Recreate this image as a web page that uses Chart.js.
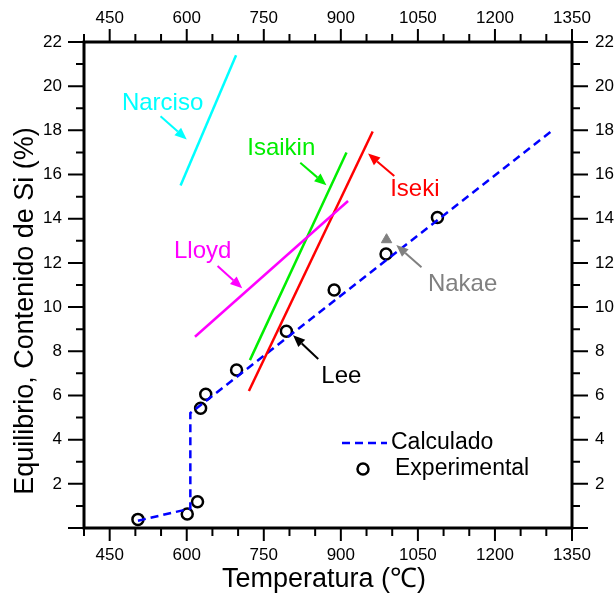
<!DOCTYPE html>
<html><head><meta charset="utf-8">
<script src="https://cdn.jsdelivr.net/npm/chart.js@4/dist/chart.umd.min.js"></script>
<style>html,body{margin:0;padding:0;background:#fff}</style>
</head><body>
<canvas id="c" width="616" height="598"></canvas>
<script>
// ---- data ----
const xTickLabels = [450, 600, 750, 900, 1050, 1200, 1350];
const yTickLabels = [2, 4, 6, 8, 10, 12, 14, 16, 18, 20, 22];
const calcT  = [505, 607, 607, 1312];
const calcSi = [0.33, 0.88, 5.2, 18.0];
const expT  = [505, 601, 621, 627, 637, 697, 794, 887, 988, 1088];
const expSi = [0.39, 0.63, 1.19, 5.42, 6.05, 7.15, 8.91, 10.77, 12.4, 14.06];
const narcisoT = [588, 696],  narcisoSi = [15.5, 21.4];
const isaikinT = [723, 911],  isaikinSi = [7.6, 17.0];
const isekiT   = [721, 962],  isekiSi   = [6.2, 17.95];
const lloydT   = [616, 914],  lloydSi   = [8.66, 14.8];
const nakaeT   = [989],       nakaeSi   = [13.05];
const labelNames = ['Narciso', 'Isaikin', 'Iseki', 'Lloyd', 'Lee', 'Nakae'];
const labelT  = [553, 784, 1044, 631, 901, 1137];
const labelSi = [19.24, 17.18, 15.33, 12.53, 6.85, 11.04];
const arrowFromT  = [549, 821, 1004, 660, 856, 1057];
const arrowFromSi = [18.64, 16.53, 15.93, 11.86, 7.65, 11.8];
const arrowToT    = [600, 872, 953, 708, 807, 1008];
const arrowToSi   = [17.59, 15.52, 16.95, 10.85, 8.73, 12.81];
const labelColors = ['#00ffff', '#00ee00', '#ff0000', '#ff00ff', '#000000', '#808080'];

const pts = (xs, ys) => xs.map((x, i) => ({x, y: ys[i]}));
const FONT = '"Liberation Sans", Arial, sans-serif';

function lineDs(xs, ys, color) {
  return {data: pts(xs, ys), showLine: true, borderColor: color, borderWidth: 2.5,
          pointRadius: 0, fill: false, tension: 0};
}

const decor = {
  id: 'decor',
  afterDatasetsDraw(chart) {
    const ctx = chart.ctx;
    const xs = chart.scales.x, ys = chart.scales.y;
    const a = chart.chartArea;
    ctx.save();
    // annotations
    for (let i = 0; i < labelNames.length; i++) {
      const c = labelColors[i];
      ctx.fillStyle = c; ctx.strokeStyle = c;
      ctx.font = '24px ' + FONT;
      ctx.textAlign = 'center'; ctx.textBaseline = 'middle';
      ctx.fillText(labelNames[i], xs.getPixelForValue(labelT[i]), ys.getPixelForValue(labelSi[i]));
      const x1 = xs.getPixelForValue(arrowFromT[i]), y1 = ys.getPixelForValue(arrowFromSi[i]);
      const x2 = xs.getPixelForValue(arrowToT[i]), y2 = ys.getPixelForValue(arrowToSi[i]);
      const ang = Math.atan2(y2 - y1, x2 - x1);
      const hl = 12, hw = 5;
      ctx.lineWidth = 2;
      ctx.beginPath(); ctx.moveTo(x1, y1);
      ctx.lineTo(x2 - hl * Math.cos(ang), y2 - hl * Math.sin(ang)); ctx.stroke();
      ctx.beginPath();
      ctx.moveTo(x2, y2);
      ctx.lineTo(x2 - hl * Math.cos(ang) + hw * Math.sin(ang), y2 - hl * Math.sin(ang) - hw * Math.cos(ang));
      ctx.lineTo(x2 - hl * Math.cos(ang) - hw * Math.sin(ang), y2 - hl * Math.sin(ang) + hw * Math.cos(ang));
      ctx.closePath(); ctx.fill();
    }
    // legend
    ctx.strokeStyle = '#0000ff'; ctx.lineWidth = 2.5; ctx.setLineDash([8, 5]);
    ctx.beginPath(); ctx.moveTo(342, 443); ctx.lineTo(387, 443); ctx.stroke();
    ctx.setLineDash([]);
    ctx.strokeStyle = '#000'; ctx.fillStyle = '#fff'; ctx.lineWidth = 2.5;
    ctx.beginPath(); ctx.arc(363, 469, 5.5, 0, Math.PI * 2); ctx.fill(); ctx.stroke();
    ctx.fillStyle = '#000'; ctx.font = '23px ' + FONT;
    ctx.textAlign = 'left'; ctx.textBaseline = 'middle';
    ctx.fillText('Calculado', 391, 443);
    ctx.fillText('Experimental', 395, 469);
    // frame
    ctx.strokeStyle = '#000'; ctx.lineWidth = 3;
    ctx.strokeRect(a.left, a.top, a.right - a.left, a.bottom - a.top);
    // tick marks
    ctx.lineWidth = 2; ctx.beginPath();
    for (let v = 400; v <= 1350; v += 50) {
      const p = xs.getPixelForValue(v);
      const len = xTickLabels.includes(v) ? 13 : 8;
      ctx.moveTo(p, a.bottom); ctx.lineTo(p, a.bottom + len);
      ctx.moveTo(p, a.top); ctx.lineTo(p, a.top - len);
    }
    for (let v = 0; v <= 22; v += 1) {
      const p = ys.getPixelForValue(v);
      const len = v % 2 === 0 ? 16 : 8;
      ctx.moveTo(a.left, p); ctx.lineTo(a.left - len, p);
      ctx.moveTo(a.right, p); ctx.lineTo(a.right + len, p);
    }
    ctx.stroke();
    // axis titles
    ctx.fillStyle = '#000'; ctx.font = '27px ' + FONT;
    ctx.textAlign = 'center'; ctx.textBaseline = 'middle';
    ctx.fillText('Temperatura (℃)', 324, 580);
    ctx.translate(26, 311); ctx.rotate(-Math.PI / 2);
    ctx.fillText('Equilibrio, Contenido de Si (%)', 0, 0);
    ctx.restore();
  }
};

const xTickCb = v => xTickLabels.includes(v) ? String(v) : '';
const yTickCb = v => yTickLabels.includes(v) ? String(v) : '';
const tickFont = {family: FONT, size: 17};

new Chart(document.getElementById('c'), {
  type: 'scatter',
  data: {datasets: [
    lineDs(narcisoT, narcisoSi, '#00ffff'),
    lineDs(lloydT, lloydSi, '#ff00ff'),
    lineDs(isaikinT, isaikinSi, '#00ee00'),
    lineDs(isekiT, isekiSi, '#ff0000'),
    Object.assign(lineDs(calcT, calcSi, '#0000ff'), {borderDash: [8, 5]}),
    {data: pts(expT, expSi), showLine: false, pointStyle: 'circle', pointRadius: 5.5,
     borderColor: '#000', backgroundColor: '#fff', borderWidth: 2.5},
    {data: pts(nakaeT, nakaeSi), showLine: false, pointStyle: 'triangle', pointRadius: 6,
     borderColor: '#808080', backgroundColor: '#808080', borderWidth: 1}
  ]},
  options: {
    responsive: false, animation: false, devicePixelRatio: 1,
    layout: {padding: 0},
    plugins: {legend: {display: false}, tooltip: {enabled: false}},
    scales: {
      x: {type: 'linear', position: 'bottom', min: 400, max: 1350,
          grid: {display: false, drawTicks: false}, border: {display: false},
          ticks: {stepSize: 50, autoSkip: false, maxRotation: 0, callback: xTickCb,
                  color: '#000', font: tickFont, padding: 17},
          afterFit: s => { s.height = 70; }},
      x2: {type: 'linear', position: 'top', min: 400, max: 1350,
          grid: {display: false, drawTicks: false}, border: {display: false},
          ticks: {stepSize: 50, autoSkip: false, maxRotation: 0, callback: xTickCb,
                  color: '#000', font: tickFont, padding: 13},
          afterFit: s => { s.height = 42; }},
      y: {type: 'linear', position: 'left', min: 0, max: 22,
          grid: {display: false, drawTicks: false}, border: {display: false},
          ticks: {stepSize: 1, autoSkip: false, callback: yTickCb,
                  color: '#000', font: tickFont, padding: 22},
          afterFit: s => { s.width = 84; }},
      y2: {type: 'linear', position: 'right', min: 0, max: 22,
          grid: {display: false, drawTicks: false}, border: {display: false},
          ticks: {stepSize: 1, autoSkip: false, callback: yTickCb,
                  color: '#000', font: tickFont, padding: 23},
          afterFit: s => { s.width = 44; }}
    }
  },
  plugins: [decor]
});
</script>
</body></html>
